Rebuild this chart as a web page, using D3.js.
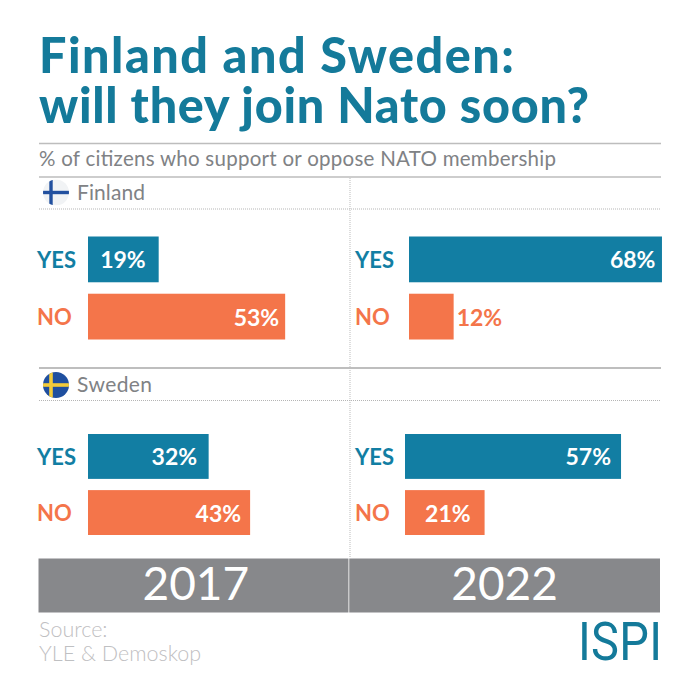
<!DOCTYPE html>
<html>
<head>
<meta charset="utf-8">
<script src="https://cdnjs.cloudflare.com/ajax/libs/d3/7.8.5/d3.min.js"></script>
<style>
  html, body { margin: 0; padding: 0; background: #fff; }
  svg { display: block; font-family: Lato, sans-serif; }
</style>
</head>
<body>
<svg id="chart" width="700" height="700"></svg>
<script>
const titleLines = ['Finland and Sweden:', 'will they join Nato soon?'];
const subtitle = '% of citizens who support or oppose NATO membership';
const answers = ['YES', 'NO'];
const years = ['2017', '2022'];
const sourceLines = ['Source:', 'YLE & Demoskop'];

const finland2017 = [19, 53];
const finland2022 = [68, 12];
const sweden2017 = [32, 43];
const sweden2022 = [57, 21];

const teal = '#127ea3';
const orange = '#f4754a';
const grey = '#87888b';

const svg = d3.select('#chart');

// title block, one text element with a tspan per line
svg.append('text')
  .attr('class', 'title')
  .attr('font-size', 48.5)
  .attr('font-weight', 900)
  .attr('fill', '#147a9a')
  .selectAll('tspan')
  .data(titleLines)
  .enter().append('tspan')
  .attr('x', 39)
  .attr('y', (d, i) => 73 + i * 49.5)
  .attr('textLength', (d, i) => i === 0 ? 475 : 550)
  .text(d => d);

svg.append('text')
  .attr('x', 39)
  .attr('y', 166)
  .attr('font-size', 20.5)
  .attr('textLength', 517)
  .attr('fill', '#808285')
  .text(subtitle);

const hline = (y, dotted, color) => svg.append('line')
  .attr('x1', 39).attr('x2', 661)
  .attr('y1', y).attr('y2', y)
  .attr('stroke', color)
  .attr('stroke-width', dotted ? 1 : 1.3)
  .attr('stroke-dasharray', dotted ? '1,1' : null);

hline(143.5, false, '#bdbdbd');
hline(177, false, '#bdbdbd');
hline(209, true, '#b5b5b5');
hline(368, false, '#a8a8a8');
hline(400.5, true, '#b5b5b5');

svg.append('line')
  .attr('x1', 350).attr('x2', 350)
  .attr('y1', 178).attr('y2', 558)
  .attr('stroke', '#bbb')
  .attr('stroke-dasharray', '1,1');

// flags
const defs = svg.append('defs');
const flag = (id, cx, cy, bg, crossColor, crossW) => {
  defs.append('clipPath').attr('id', id)
    .append('circle').attr('cx', cx).attr('cy', cy).attr('r', 13);
  const g = svg.append('g').attr('clip-path', `url(#${id})`);
  g.append('rect').attr('x', cx - 13).attr('y', cy - 13).attr('width', 26).attr('height', 26).attr('fill', bg);
  g.append('rect').attr('x', cx - 13).attr('y', cy - crossW / 2).attr('width', 26).attr('height', crossW).attr('fill', crossColor);
  g.append('rect').attr('x', cx - 5 - crossW / 2).attr('y', cy - 13).attr('width', crossW).attr('height', 26).attr('fill', crossColor);
};
flag('fi', 56, 192.5, '#f1f3f5', '#22509f', 3.4);
flag('se', 56, 385, '#1f4f9f', '#f2cb3a', 3.6);

const countryLabel = (text, width, y) => svg.append('text')
  .attr('x', 77).attr('y', y)
  .attr('font-size', 21)
  .attr('textLength', width)
  .attr('fill', '#808285')
  .text(text);
countryLabel('Finland', 68, 200);
countryLabel('Sweden', 75, 392);

// one pair of bars: scales built per panel, the source bars start at slightly different x
// insets = how far in from the bar end each value label sits
const panel = (values, insets, x0, labelX, unit, yTop, yBottom) => {
  const x = d3.scaleLinear().domain([0, 100]).range([x0, x0 + unit * 100]);
  const y = d3.scaleBand().domain(answers).range([yTop, yBottom]).paddingInner(0.2);
  const color = d3.scaleOrdinal().domain(answers).range([teal, orange]);
  const rows = answers.map((a, i) => ({ answer: a, value: values[i], inset: insets[i] }));
  const g = svg.append('g');

  g.selectAll('rect')
    .data(rows)
    .enter().append('rect')
    .attr('x', x(0))
    .attr('y', d => y(d.answer))
    .attr('width', d => x(d.value) - x(0))
    .attr('height', y.bandwidth())
    .attr('fill', d => color(d.answer));

  g.selectAll('.answer')
    .data(rows)
    .enter().append('text')
    .attr('class', 'answer')
    .attr('x', labelX)
    .attr('y', d => y(d.answer) + y.bandwidth() / 2 + 8.5)
    .attr('font-size', 22)
    .attr('font-weight', 700)
    .attr('fill', d => color(d.answer))
    .text(d => d.answer);

  // small bars get the value outside, in the bar colour
  g.selectAll('.value')
    .data(rows)
    .enter().append('text')
    .attr('class', 'value')
    .attr('x', d => d.value < 15 ? x(d.value) + 3 : x(d.value) - d.inset)
    .attr('y', d => y(d.answer) + y.bandwidth() / 2 + 9)
    .attr('text-anchor', d => d.value < 15 ? 'start' : 'end')
    .attr('font-size', 23)
    .attr('font-weight', 700)
    .attr('fill', d => d.value < 15 ? color(d.answer) : '#fff')
    .text(d => d.value + '%');
};

panel(finland2017, [13, 6], 88, 37, 3.72, 236.5, 339.5);
panel(finland2022, [6.5, 0], 409, 355, 3.72, 236.5, 339.5);
panel(sweden2017, [11.5, 9], 88, 37, 3.77, 434, 535);
panel(sweden2022, [10, 14], 405, 355, 3.79, 434, 535);

// year band
const band = d3.scaleBand().domain(years).range([38.5, 660]);
svg.selectAll('.year-band')
  .data(years)
  .enter().append('rect')
  .attr('class', 'year-band')
  .attr('x', d => band(d))
  .attr('y', 558.5)
  .attr('width', d => band.bandwidth() - (d === '2017' ? 0.8 : 0))
  .attr('height', 54)
  .attr('fill', grey);

svg.selectAll('.year')
  .data(years)
  .enter().append('text')
  .attr('class', 'year')
  .attr('x', d => band(d) + band.bandwidth() / 2 + (d === '2017' ? 2 : 0))
  .attr('y', 600)
  .attr('text-anchor', 'middle')
  .attr('font-size', 46)
  .attr('font-weight', 400)
  .attr('fill', '#fff')
  .text(d => d);

// footer
svg.selectAll('.source')
  .data(sourceLines)
  .enter().append('text')
  .attr('class', 'source')
  .attr('x', 39)
  .attr('y', (d, i) => 637 + i * 24)
  .attr('font-size', 21.5)
  .attr('font-weight', 300)
  .attr('fill', '#bfc0c2')
  .text(d => d);

svg.append('text')
  .attr('x', 0)
  .attr('y', 0)
  .attr('transform', 'translate(578,660) scale(1,1.14)')
  .attr('font-family', 'Roboto, sans-serif')
  .attr('font-size', 47)
  .attr('font-weight', 400)
  .attr('textLength', 84)
  .attr('lengthAdjust', 'spacing')
  .attr('fill', '#147a9a')
  .text('ISPI');
</script>
</body>
</html>
